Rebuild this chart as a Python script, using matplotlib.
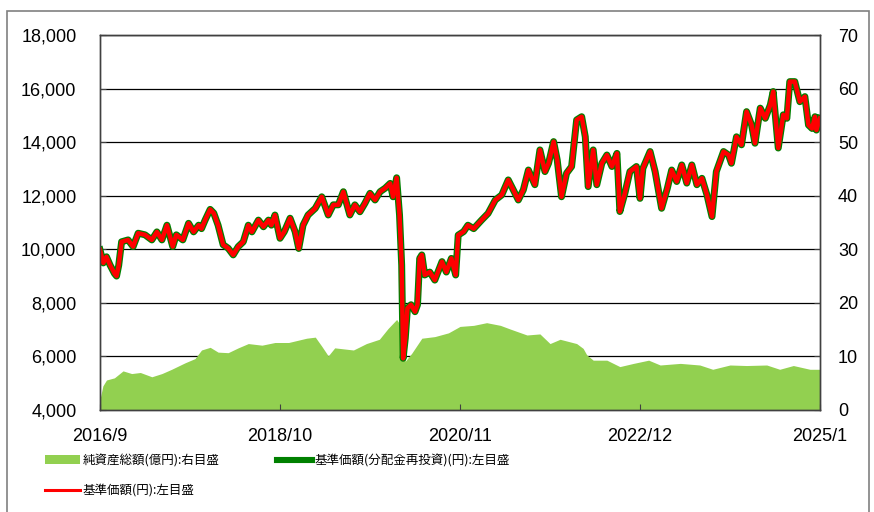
import numpy as np
import matplotlib
matplotlib.use("Agg")
import matplotlib.pyplot as plt
from matplotlib.patches import Rectangle, Patch
from matplotlib.lines import Line2D

plt.rcParams['font.family'] = ['Liberation Sans', 'Noto Sans CJK JP', 'DejaVu Sans']

# months since 2016/9 and 基準価額 (円)
nav_m = [0.0, 0.46, 0.9, 1.4, 2.0, 2.3, 2.6, 3.0, 3.9, 4.6, 5.3, 6.25, 7.2, 7.9, 8.6, 9.3,
         10.1, 10.6, 11.5, 12.3, 13.0, 13.7, 14.1, 14.6, 15.3, 15.8, 16.4, 17.1, 17.8, 18.5,
         19.2, 19.9, 20.6, 21.1, 22.0, 22.7, 23.4, 23.8, 24.3, 25.0, 25.6, 26.4, 27.1, 27.6,
         28.2, 28.9, 29.9, 30.8, 31.7, 32.4, 33.1, 33.8, 34.7, 35.4, 36.1, 36.8, 37.5, 38.2,
         38.9, 39.6, 40.3, 40.7, 41.2, 41.6, 41.9, 42.1, 42.4, 42.7, 43.2, 43.75, 44.1, 44.4,
         44.7, 45.1, 45.8, 46.5, 47.5, 48.1, 48.8, 49.4, 49.75, 50.5, 51.1, 51.9, 53.0, 53.9,
         54.9, 55.8, 56.7, 57.4, 58.1, 58.8, 59.5, 60.4, 61.1, 61.8, 62.3, 63.0, 63.5, 64.1,
         64.8, 65.5, 66.2, 66.9, 67.4, 67.8, 68.5, 69.0, 69.7, 70.4, 71.1, 71.8, 72.2, 72.9,
         73.6, 74.5, 75.0, 75.4, 76.4, 77.1, 78.0, 78.8, 79.4, 80.1, 80.8, 81.5, 82.2, 82.9,
         83.6, 84.3, 85.0, 85.6, 86.6, 87.3, 87.7, 88.4, 89.1, 89.8, 90.5, 90.97, 91.7, 92.4,
         93.1, 93.5, 94.2, 94.9, 95.4, 95.8, 96.5, 97.2, 97.9, 98.4, 98.9, 99.3, 99.5, 100.0]
nav = [9980, 9490, 9720, 9410, 9100, 9000, 9400, 10280, 10350, 10100, 10600, 10540, 10350, 10650,
       10350, 10900, 10100, 10540, 10350, 10970, 10650, 10900, 10770, 11090, 11490, 11350, 10900,
       10170, 10040, 9790, 10100, 10280, 10900, 10650, 11090, 10840, 11090, 10900, 11280, 10410,
       10660, 11160, 10660, 10030, 10900, 11280, 11530, 11960, 11280, 11660, 11660, 12150, 11280,
       11660, 11400, 11720, 12090, 11840, 12150, 12280, 12460, 11960, 12670, 11280, 9410, 5930,
       6680, 7800, 7930, 7670, 7930, 9660, 9790, 9040, 9150, 8850, 9540, 9150, 9660, 9040, 10530,
       10660, 10900, 10770, 11090, 11340, 11840, 12030, 12590, 12220, 11840, 12220, 12960, 12410,
       13710, 12900, 13210, 14020, 13340, 11960, 12840, 13090, 14830, 14950, 14200, 12340, 13710,
       12410, 13210, 13520, 13090, 13580, 11410, 12090, 12900, 13090, 11900, 13020, 13650, 12900,
       11530, 12280, 12960, 12530, 13150, 12470, 13150, 12410, 12650, 12030, 11220, 12900, 13650,
       13520, 13210, 14200, 13900, 15140, 14640, 13960, 15270, 14890, 15390, 15890, 13780, 15020,
       14890, 16260, 16260, 15510, 15700, 14640, 14510, 14950, 14450, 14890]

# 純資産総額 (億円)
aum_m = [0.0, 0.4, 0.9, 2.0, 3.2, 4.4, 5.6, 7.2, 8.6, 9.95, 11.8, 13.2, 14.1, 15.3, 16.4, 17.8,
         19.2, 20.6, 22.5, 24.3, 26.2, 28.7, 29.9, 30.8, 31.7, 32.6, 35.2, 37.0, 38.8, 40.0,
         41.2, 41.9, 42.4, 43.3, 44.7, 46.5, 48.4, 50.0, 51.9, 53.7, 55.6, 57.0, 59.3, 61.1,
         62.5, 63.9, 66.2, 67.1, 67.6, 68.5, 70.4, 72.2, 74.1, 76.2, 77.8, 80.6, 83.3, 85.1,
         87.5, 89.8, 92.6, 94.4, 96.3, 98.6, 100.0]
aum = [2.0, 4.5, 5.6, 6.0, 7.3, 6.8, 7.0, 6.2, 6.8, 7.6, 8.8, 9.6, 11.2, 11.7, 10.8, 10.7,
       11.6, 12.4, 12.1, 12.6, 12.6, 13.4, 13.6, 11.9, 10.1, 11.6, 11.2, 12.4, 13.2, 15.2,
       16.9, 15.5, 9.1, 10.6, 13.4, 13.7, 14.4, 15.6, 15.8, 16.3, 15.8, 15.1, 14.0, 14.2,
       12.4, 13.2, 12.4, 11.5, 10.3, 9.3, 9.3, 8.1, 8.7, 9.3, 8.4, 8.7, 8.4, 7.6,
       8.4, 8.3, 8.4, 7.6, 8.3, 7.6, 7.6]

xtick_pos = [0, 25, 50, 75, 100]
xtick_labels = ['2016/9', '2018/10', '2020/11', '2022/12', '2025/1']

labels = ['純資産総額(億円):右目盛', '基準価額(円):左目盛', '基準価額(分配金再投資)(円):左目盛']

area_color = '#92D050'
green = '#008000'
red = '#FF0000'

fig = plt.figure(figsize=(8.74, 5.12), dpi=100)
fig.patches.append(Rectangle((0.008, -0.01), 0.986, 0.9885, transform=fig.transFigure,
                             fill=False, edgecolor='#808080', linewidth=1.2))

ax = fig.add_axes([100/874, 1-410/512, 720/874, 375/512])
ax2 = ax.twinx()
ax.set_zorder(2)
ax2.set_zorder(1)
ax.patch.set_visible(False)

# area on right scale, gridlines behind it
ax2.set_axisbelow(True)
ax2.yaxis.grid(True, color='black', linewidth=0.9)
ax2.fill_between(aum_m, aum, 0, color=area_color, linewidth=0)
ax2.set_ylim(0, 70)
ax2.set_yticks(np.arange(0, 71, 10))

ax.plot(nav_m, nav, color=green, linewidth=5.0, solid_joinstyle='round')
ax.plot(nav_m, nav, color=red, linewidth=3.2, solid_joinstyle='round')
ax.set_ylim(4000, 18000)
ax.set_yticks(np.arange(4000, 18001, 2000))
ax.set_yticklabels([f'{v:,}' for v in range(4000, 18001, 2000)])
ax.set_xlim(0, 100)
ax.set_xticks(xtick_pos)
ax.set_xticklabels(xtick_labels)

for a in (ax, ax2):
    for s in a.spines.values():
        s.set_color('#404040')
        s.set_linewidth(1.0)
ax.tick_params(axis='y', direction='in', length=4, labelsize=13, pad=17, color='#404040')
ax2.tick_params(axis='y', direction='in', length=4, labelsize=13, pad=13, color='#404040')
ax.tick_params(axis='x', direction='in', length=4, labelsize=13, pad=13, color='#404040')

handles = [Patch(facecolor=area_color, edgecolor='none'),
           Line2D([], [], color=red, linewidth=2.2),
           Line2D([], [], color=green, linewidth=4.4)]
fig.legend(handles, labels, loc='upper left', bbox_to_anchor=(45/874, 1-454/512), ncol=2,
           frameon=False, handlelength=2.8, handletextpad=0.2,
           columnspacing=4.6, labelspacing=1.35, borderpad=0, borderaxespad=0,
           prop={'family': ['Noto Sans CJK JP'], 'size': 9})

fig.savefig('out.png', dpi=100)
